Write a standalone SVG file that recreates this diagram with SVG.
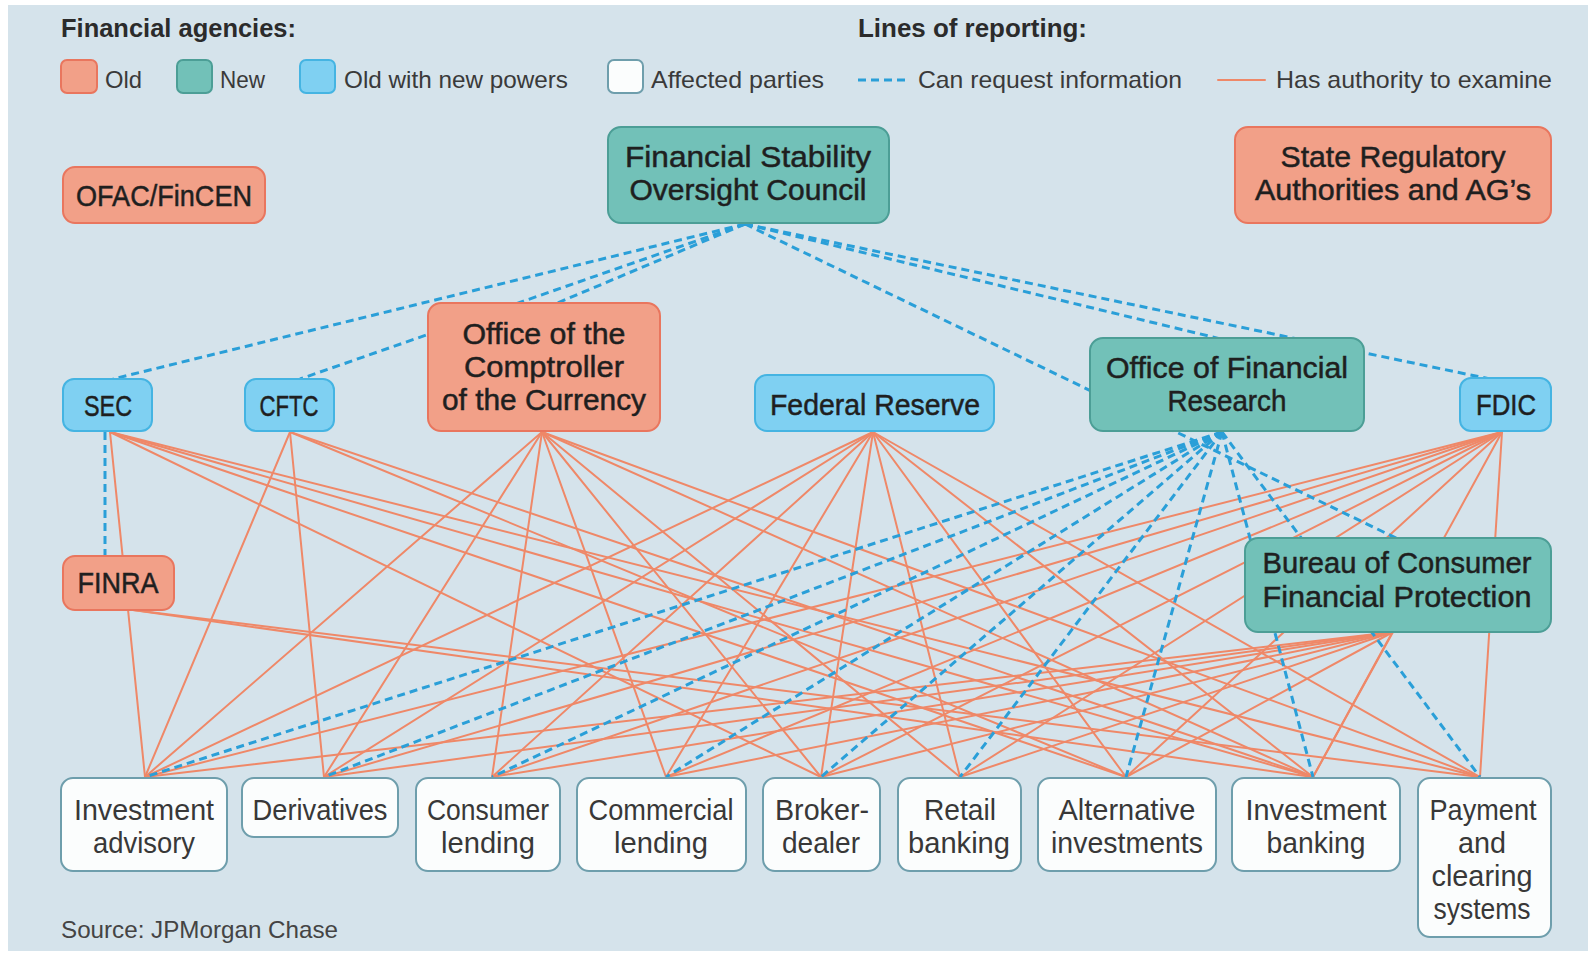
<svg xmlns="http://www.w3.org/2000/svg" width="1588" height="953" viewBox="0 0 1588 953">
<style>
text{font-family:"Liberation Sans",Arial,sans-serif;fill:#2a2a2a}
.hd{font-size:25px;font-weight:bold;fill:#2b2b2b}
.lg{font-size:24px;fill:#3a3a3a}
.ag{font-size:30px;text-anchor:middle;fill:#1f1f1f;stroke:#1f1f1f;stroke-width:0.5}
.bt{font-size:29px;text-anchor:middle;fill:#383838}
.src{font-size:24px;fill:#444}
.old{fill:#f2a088;stroke:#e9765e;stroke-width:2}
.new{fill:#72c1b8;stroke:#4c9e96;stroke-width:2}
.onp{fill:#7fd0f2;stroke:#45b4e2;stroke-width:2}
.aff{fill:#fbfdfd;stroke:#6e9eac;stroke-width:2}
.ex{stroke:#ef8868;stroke-width:2;fill:none;stroke-linecap:round}
.rq{stroke:#2a9fd8;stroke-width:3;fill:none;stroke-dasharray:8 5}
</style>
<rect x="8" y="5" width="1580" height="946" fill="#d5e3eb"/>

<g id="legend">
<text class="hd" x="61" y="37" textLength="235" lengthAdjust="spacingAndGlyphs">Financial agencies:</text>
<text class="hd" x="858" y="37" textLength="229" lengthAdjust="spacingAndGlyphs">Lines of reporting:</text>
<rect class="old" x="61" y="60" width="36" height="33" rx="6"/>
<text class="lg" x="105" y="88" textLength="37" lengthAdjust="spacingAndGlyphs">Old</text>
<rect class="new" x="177" y="60" width="35" height="33" rx="6"/>
<text class="lg" x="220" y="88" textLength="45" lengthAdjust="spacingAndGlyphs">New</text>
<rect class="onp" x="300" y="60" width="35" height="33" rx="6"/>
<text class="lg" x="344" y="88" textLength="224" lengthAdjust="spacingAndGlyphs">Old with new powers</text>
<rect class="aff" x="608" y="60" width="35" height="33" rx="6"/>
<text class="lg" x="651" y="88" textLength="173" lengthAdjust="spacingAndGlyphs">Affected parties</text>
<line class="rq" x1="858" y1="80" x2="906" y2="80"/>
<text class="lg" x="918" y="88" textLength="264" lengthAdjust="spacingAndGlyphs">Can request information</text>
<line class="ex" x1="1218" y1="80" x2="1265" y2="80" stroke-width="3"/>
<text class="lg" x="1276" y="88" textLength="276" lengthAdjust="spacingAndGlyphs">Has authority to examine</text>
</g>

<g id="connectors">
<!-- examine: SEC -->
<line class="ex" x1="110" y1="432" x2="145" y2="777"/>
<line class="ex" x1="110" y1="432" x2="821" y2="777"/>
<line class="ex" x1="110" y1="432" x2="1126" y2="777"/>
<line class="ex" x1="110" y1="432" x2="1313" y2="777"/>
<line class="ex" x1="110" y1="432" x2="1480" y2="777"/>
<!-- CFTC -->
<line class="ex" x1="290" y1="432" x2="145" y2="777"/>
<line class="ex" x1="290" y1="432" x2="324" y2="777"/>
<line class="ex" x1="290" y1="432" x2="1126" y2="777"/>
<line class="ex" x1="290" y1="432" x2="1313" y2="777"/>
<!-- OCC -->
<line class="ex" x1="542" y1="432" x2="145" y2="777"/>
<line class="ex" x1="542" y1="432" x2="324" y2="777"/>
<line class="ex" x1="542" y1="432" x2="492" y2="777"/>
<line class="ex" x1="542" y1="432" x2="666" y2="777"/>
<line class="ex" x1="542" y1="432" x2="821" y2="777"/>
<line class="ex" x1="542" y1="432" x2="960" y2="777"/>
<line class="ex" x1="542" y1="432" x2="1313" y2="777"/>
<line class="ex" x1="542" y1="432" x2="1480" y2="777"/>
<!-- Fed -->
<line class="ex" x1="873" y1="432" x2="145" y2="777"/>
<line class="ex" x1="873" y1="432" x2="324" y2="777"/>
<line class="ex" x1="873" y1="432" x2="492" y2="777"/>
<line class="ex" x1="873" y1="432" x2="666" y2="777"/>
<line class="ex" x1="873" y1="432" x2="821" y2="777"/>
<line class="ex" x1="873" y1="432" x2="960" y2="777"/>
<line class="ex" x1="873" y1="432" x2="1126" y2="777"/>
<line class="ex" x1="873" y1="432" x2="1313" y2="777"/>
<line class="ex" x1="873" y1="432" x2="1480" y2="777"/>
<!-- FDIC -->
<line class="ex" x1="1502" y1="432" x2="145" y2="777"/>
<line class="ex" x1="1502" y1="432" x2="324" y2="777"/>
<line class="ex" x1="1502" y1="432" x2="492" y2="777"/>
<line class="ex" x1="1502" y1="432" x2="666" y2="777"/>
<line class="ex" x1="1502" y1="432" x2="821" y2="777"/>
<line class="ex" x1="1502" y1="432" x2="960" y2="777"/>
<line class="ex" x1="1502" y1="432" x2="1126" y2="777"/>
<line class="ex" x1="1502" y1="432" x2="1313" y2="777"/>
<line class="ex" x1="1502" y1="432" x2="1480" y2="777"/>
<!-- FINRA -->
<line class="ex" x1="133" y1="610" x2="1313" y2="777"/>
<line class="ex" x1="133" y1="610" x2="1480" y2="777"/>
<!-- BCFP -->
<line class="ex" x1="1393" y1="632" x2="145" y2="777"/>
<line class="ex" x1="1393" y1="632" x2="324" y2="777"/>
<line class="ex" x1="1393" y1="632" x2="492" y2="777"/>
<line class="ex" x1="1393" y1="632" x2="666" y2="777"/>
<line class="ex" x1="1393" y1="632" x2="821" y2="777"/>
<line class="ex" x1="1393" y1="632" x2="960" y2="777"/>
<line class="ex" x1="1393" y1="632" x2="1126" y2="777"/>
<line class="ex" x1="1393" y1="632" x2="1313" y2="777"/>

<!-- request info: FSOC -->
<line class="rq" x1="745" y1="224" x2="113" y2="379"/>
<line class="rq" x1="745" y1="224" x2="300" y2="379"/>
<line class="rq" x1="745" y1="224" x2="555" y2="304"/>
<line class="rq" x1="745" y1="224" x2="1398" y2="539"/>
<line class="rq" x1="745" y1="224" x2="1221" y2="339"/>
<line class="rq" x1="745" y1="224" x2="1490" y2="379"/>
<!-- SEC to FINRA -->
<line class="rq" x1="105" y1="432" x2="105" y2="557"/>
<!-- OFR -->
<line class="rq" x1="1222" y1="432" x2="145" y2="777"/>
<line class="rq" x1="1222" y1="432" x2="324" y2="777"/>
<line class="rq" x1="1222" y1="432" x2="492" y2="777"/>
<line class="rq" x1="1222" y1="432" x2="666" y2="777"/>
<line class="rq" x1="1222" y1="432" x2="821" y2="777"/>
<line class="rq" x1="1222" y1="432" x2="960" y2="777"/>
<line class="rq" x1="1222" y1="432" x2="1126" y2="777"/>
<line class="rq" x1="1222" y1="432" x2="1313" y2="777"/>
<line class="rq" x1="1222" y1="432" x2="1480" y2="777"/>
</g>

<g id="node-ofac">
<rect class="old" x="63" y="167" width="202" height="56" rx="12"/>
<text class="ag" x="164" y="206" textLength="176" lengthAdjust="spacingAndGlyphs">OFAC/FinCEN</text>
</g>
<g id="node-fsoc">
<rect class="new" x="608" y="127" width="281" height="96" rx="13"/>
<text class="ag" x="748" y="167" textLength="246" lengthAdjust="spacingAndGlyphs">Financial Stability</text>
<text class="ag" x="748" y="200" textLength="237" lengthAdjust="spacingAndGlyphs">Oversight Council</text>
</g>
<g id="node-state">
<rect class="old" x="1235" y="127" width="316" height="96" rx="13"/>
<text class="ag" x="1393" y="167" textLength="225" lengthAdjust="spacingAndGlyphs">State Regulatory</text>
<text class="ag" x="1393" y="200" textLength="276" lengthAdjust="spacingAndGlyphs">Authorities and AG’s</text>
</g>
<g id="node-sec">
<rect class="onp" x="63" y="379" width="89" height="52" rx="11"/>
<text class="ag" x="108" y="416" textLength="48" lengthAdjust="spacingAndGlyphs">SEC</text>
</g>
<g id="node-cftc">
<rect class="onp" x="245" y="379" width="89" height="52" rx="11"/>
<text class="ag" x="289" y="416" textLength="59" lengthAdjust="spacingAndGlyphs">CFTC</text>
</g>
<g id="node-occ">
<rect class="old" x="428" y="303" width="232" height="128" rx="13"/>
<text class="ag" x="544" y="344" textLength="163" lengthAdjust="spacingAndGlyphs">Office of the</text>
<text class="ag" x="544" y="377" textLength="160" lengthAdjust="spacingAndGlyphs">Comptroller</text>
<text class="ag" x="544" y="410" textLength="204" lengthAdjust="spacingAndGlyphs">of the Currency</text>
</g>
<g id="node-fed">
<rect class="onp" x="755" y="375" width="239" height="56" rx="12"/>
<text class="ag" x="875" y="415" textLength="210" lengthAdjust="spacingAndGlyphs">Federal Reserve</text>
</g>
<g id="node-ofr">
<rect class="new" x="1090" y="338" width="274" height="93" rx="13"/>
<text class="ag" x="1227" y="378" textLength="242" lengthAdjust="spacingAndGlyphs">Office of Financial</text>
<text class="ag" x="1227" y="411" textLength="119" lengthAdjust="spacingAndGlyphs">Research</text>
</g>
<g id="node-fdic">
<rect class="onp" x="1460" y="378" width="91" height="53" rx="11"/>
<text class="ag" x="1506" y="415" textLength="60" lengthAdjust="spacingAndGlyphs">FDIC</text>
</g>
<g id="node-finra">
<rect class="old" x="63" y="556" width="111" height="54" rx="12"/>
<text class="ag" x="118" y="593" textLength="81" lengthAdjust="spacingAndGlyphs">FINRA</text>
</g>
<g id="node-bcfp">
<rect class="new" x="1245" y="538" width="306" height="94" rx="13"/>
<text class="ag" x="1397" y="573" textLength="269" lengthAdjust="spacingAndGlyphs">Bureau of Consumer</text>
<text class="ag" x="1397" y="607" textLength="269" lengthAdjust="spacingAndGlyphs">Financial Protection</text>
</g>

<g id="node-investment-advisory">
<rect class="aff" x="61" y="778" width="166" height="93" rx="12"/>
<text class="bt" x="144" y="820" textLength="140" lengthAdjust="spacingAndGlyphs">Investment</text>
<text class="bt" x="144" y="853" textLength="102" lengthAdjust="spacingAndGlyphs">advisory</text>
</g>
<g id="node-derivatives">
<rect class="aff" x="242" y="778" width="156" height="59" rx="12"/>
<text class="bt" x="320" y="820" textLength="135" lengthAdjust="spacingAndGlyphs">Derivatives</text>
</g>
<g id="node-consumer-lending">
<rect class="aff" x="416" y="778" width="144" height="93" rx="12"/>
<text class="bt" x="488" y="820" textLength="122" lengthAdjust="spacingAndGlyphs">Consumer</text>
<text class="bt" x="488" y="853" textLength="94" lengthAdjust="spacingAndGlyphs">lending</text>
</g>
<g id="node-commercial-lending">
<rect class="aff" x="577" y="778" width="169" height="93" rx="12"/>
<text class="bt" x="661" y="820" textLength="145" lengthAdjust="spacingAndGlyphs">Commercial</text>
<text class="bt" x="661" y="853" textLength="94" lengthAdjust="spacingAndGlyphs">lending</text>
</g>
<g id="node-broker-dealer">
<rect class="aff" x="763" y="778" width="117" height="93" rx="12"/>
<text class="bt" x="822" y="820" textLength="94" lengthAdjust="spacingAndGlyphs">Broker-</text>
<text class="bt" x="821" y="853" textLength="78" lengthAdjust="spacingAndGlyphs">dealer</text>
</g>
<g id="node-retail-banking">
<rect class="aff" x="898" y="778" width="123" height="93" rx="12"/>
<text class="bt" x="960" y="820" textLength="72" lengthAdjust="spacingAndGlyphs">Retail</text>
<text class="bt" x="959" y="853" textLength="102" lengthAdjust="spacingAndGlyphs">banking</text>
</g>
<g id="node-alternative-investments">
<rect class="aff" x="1038" y="778" width="178" height="93" rx="12"/>
<text class="bt" x="1127" y="820" textLength="137" lengthAdjust="spacingAndGlyphs">Alternative</text>
<text class="bt" x="1127" y="853" textLength="152" lengthAdjust="spacingAndGlyphs">investments</text>
</g>
<g id="node-investment-banking">
<rect class="aff" x="1232" y="778" width="168" height="93" rx="12"/>
<text class="bt" x="1316" y="820" textLength="141" lengthAdjust="spacingAndGlyphs">Investment</text>
<text class="bt" x="1316" y="853" textLength="99" lengthAdjust="spacingAndGlyphs">banking</text>
</g>
<g id="node-payment-clearing">
<rect class="aff" x="1418" y="778" width="133" height="159" rx="12"/>
<text class="bt" x="1483" y="820" textLength="107" lengthAdjust="spacingAndGlyphs">Payment</text>
<text class="bt" x="1482" y="853" textLength="48" lengthAdjust="spacingAndGlyphs">and</text>
<text class="bt" x="1482" y="886" textLength="101" lengthAdjust="spacingAndGlyphs">clearing</text>
<text class="bt" x="1482" y="919" textLength="97" lengthAdjust="spacingAndGlyphs">systems</text>
</g>

<text class="src" x="61" y="938" textLength="277" lengthAdjust="spacingAndGlyphs">Source: JPMorgan Chase</text>
</svg>
